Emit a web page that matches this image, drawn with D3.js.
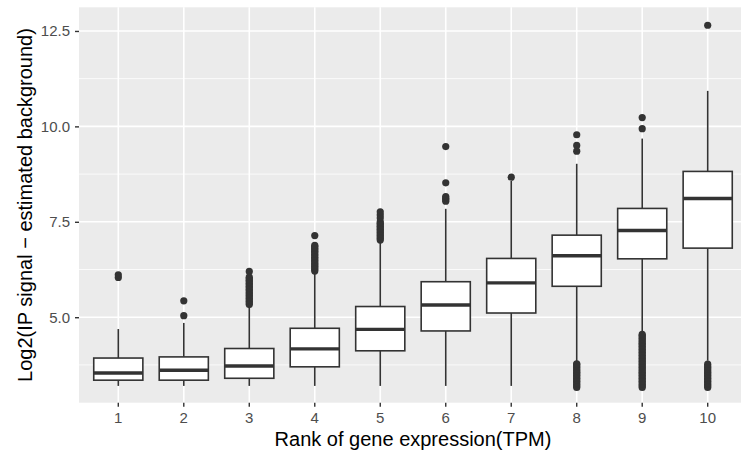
<!DOCTYPE html>
<html>
<head>
<meta charset="utf-8">
<script src="https://cdn.jsdelivr.net/npm/d3@7"></script>
<style>
  html, body { margin: 0; padding: 0; background: #fff; overflow: hidden; }
  svg { display: block; font-family: "Liberation Sans", Arial, Helvetica, sans-serif; }
</style>
</head>
<body>
<div id="chart"></div>
<script>
// Datos
const categories = ['1', '2', '3', '4', '5', '6', '7', '8', '9', '10'];
const whiskerLow = [3.20, 3.20, 3.20, 3.20, 3.20, 3.20, 3.20, 3.84, 4.62, 3.86];
const q1 = [3.35, 3.35, 3.40, 3.70, 4.12, 4.64, 5.11, 5.81, 6.53, 6.81];
const medians = [3.54, 3.61, 3.72, 4.17, 4.68, 5.32, 5.90, 6.61, 7.27, 8.11];
const q3 = [3.93, 3.96, 4.18, 4.71, 5.28, 5.93, 6.54, 7.15, 7.85, 8.82];
const whiskerHigh = [4.69, 4.85, 5.28, 6.14, 7.00, 7.84, 8.57, 9.02, 9.68, 10.93];
const outliers = [
  [6.04, 6.11],
  [5.04, 5.43],
  [5.33, 5.37, 5.41, 5.45, 5.49, 5.53, 5.57, 5.61, 5.65, 5.69, 5.73, 5.77, 5.81, 5.85, 5.89, 5.93, 5.97, 6.01, 6.05, 6.20],
  [6.21, 6.25, 6.29, 6.33, 6.37, 6.41, 6.45, 6.49, 6.53, 6.57, 6.61, 6.65, 6.69, 6.73, 6.77, 6.81, 6.85, 6.88, 7.14],
  [7.02, 7.06, 7.10, 7.14, 7.18, 7.22, 7.26, 7.30, 7.34, 7.38, 7.42, 7.46, 7.50, 7.60, 7.68, 7.76],
  [8.04, 8.08, 8.12, 8.16, 8.52, 9.47],
  [8.67],
  [3.16, 3.20, 3.24, 3.28, 3.32, 3.36, 3.40, 3.44, 3.48, 3.52, 3.56, 3.60, 3.64, 3.68, 3.72, 3.76, 3.78, 9.35, 9.50, 9.78],
  [3.16, 3.20, 3.24, 3.28, 3.32, 3.36, 3.40, 3.44, 3.48, 3.52, 3.56, 3.60, 3.64, 3.68, 3.72, 3.76, 3.80, 3.84, 3.88, 3.92,
   3.96, 4.00, 4.04, 4.08, 4.12, 4.16, 4.20, 4.24, 4.28, 4.32, 4.36, 4.40, 4.44, 4.48, 4.52, 4.55, 9.94, 10.23],
  [3.16, 3.20, 3.24, 3.28, 3.32, 3.36, 3.40, 3.44, 3.48, 3.52, 3.56, 3.60, 3.64, 3.68, 3.72, 3.77, 12.65]
];
const yTicks = [5, 7.5, 10, 12.5];
const yMinorTicks = [3.75, 6.25, 8.75, 11.25];
const yDomain = [2.76, 13.12];
const xTitle = 'Rank of gene expression(TPM)';
const yTitle = 'Log2(IP signal \u2212 estimated background)';

let width = 741, height = 457;
let panel = {left: 79, right: 747, top: 7.3, bottom: 402.7};
let fontFamily = '"Liberation Sans", Arial, Helvetica, sans-serif';

let svg = d3.select('#chart')
    .append('svg')
    .attr('width', width)
    .attr('height', height);

let x = d3.scaleBand()
    .domain(categories)
    .range([panel.left, panel.right])
    .paddingInner(0)
    .paddingOuter(0.1);

let y = d3.scaleLinear()
    .domain(yDomain)
    .range([panel.bottom, panel.top]);

// Fondo del panel
svg.append('rect')
    .attr('x', panel.left)
    .attr('y', panel.top)
    .attr('width', panel.right - panel.left)
    .attr('height', panel.bottom - panel.top)
    .attr('fill', '#EBEBEB');

// Rejilla
let grid = svg.append('g');
grid.selectAll('.minor')
    .data(yMinorTicks)
    .enter().append('line')
    .attr('x1', panel.left).attr('x2', panel.right)
    .attr('y1', d => y(d)).attr('y2', d => y(d))
    .attr('stroke', '#fff').attr('stroke-width', 0.8);
grid.selectAll('.major')
    .data(yTicks)
    .enter().append('line')
    .attr('x1', panel.left).attr('x2', panel.right)
    .attr('y1', d => y(d)).attr('y2', d => y(d))
    .attr('stroke', '#fff').attr('stroke-width', 1.6);
grid.selectAll('.vmajor')
    .data(categories)
    .enter().append('line')
    .attr('x1', d => x(d) + x.bandwidth() / 2).attr('x2', d => x(d) + x.bandwidth() / 2)
    .attr('y1', panel.top).attr('y2', panel.bottom)
    .attr('stroke', '#fff').attr('stroke-width', 1.6);

// Ejes
let xAxis = svg.append('g')
    .attr('transform', 'translate(0,' + panel.bottom + ')')
    .call(d3.axisBottom(x).tickSize(4).tickPadding(6));
xAxis.select('.domain').remove();
xAxis.selectAll('.tick line').attr('stroke', '#333').attr('stroke-width', 1.4);
xAxis.selectAll('.tick text').attr('fill', '#4D4D4D').attr('font-size', 15)
    .attr('font-family', fontFamily);

let yAxis = svg.append('g')
    .attr('transform', 'translate(' + panel.left + ',0)')
    .call(d3.axisLeft(y).tickValues(yTicks).tickFormat(d3.format('.1f')).tickSize(4).tickPadding(5));
yAxis.select('.domain').remove();
yAxis.selectAll('.tick line').attr('stroke', '#333').attr('stroke-width', 1.4);
yAxis.selectAll('.tick text').attr('fill', '#4D4D4D').attr('font-size', 15)
    .attr('font-family', fontFamily);

// Cajas
let boxes = categories.map((c, i) => ({
    cat: c, lo: whiskerLow[i], q1: q1[i], med: medians[i], q3: q3[i], hi: whiskerHigh[i], out: outliers[i]
}));
let cx = d => x(d.cat) + x.bandwidth() / 2;
let bw = x.step() * 0.75;

let g = svg.selectAll('.box')
    .data(boxes)
    .enter().append('g')
    .attr('class', 'box');

g.append('line')
    .attr('x1', cx).attr('x2', cx)
    .attr('y1', d => y(d.q3)).attr('y2', d => y(d.hi))
    .attr('stroke', '#333').attr('stroke-width', 1.6);
g.append('line')
    .attr('x1', cx).attr('x2', cx)
    .attr('y1', d => y(d.q1)).attr('y2', d => y(d.lo))
    .attr('stroke', '#333').attr('stroke-width', 1.6);

g.selectAll('circle')
    .data(d => d.out.map(v => ({cat: d.cat, v: v})))
    .enter().append('circle')
    .attr('cx', cx)
    .attr('cy', d => y(d.v))
    .attr('r', 3.6)
    .attr('fill', '#333');

g.append('rect')
    .attr('x', d => cx(d) - bw / 2)
    .attr('width', bw)
    .attr('y', d => y(d.q3))
    .attr('height', d => y(d.q1) - y(d.q3))
    .attr('fill', '#fff')
    .attr('stroke', '#333')
    .attr('stroke-width', 1.6);
g.append('line')
    .attr('x1', d => cx(d) - bw / 2).attr('x2', d => cx(d) + bw / 2)
    .attr('y1', d => y(d.med)).attr('y2', d => y(d.med))
    .attr('stroke', '#333').attr('stroke-width', 3.4);

// Títulos de ejes
svg.append('text')
    .attr('x', (panel.left + panel.right) / 2)
    .attr('y', 445.7)
    .attr('text-anchor', 'middle')
    .attr('font-size', 20)
    .attr('fill', '#000')
    .text(xTitle);

svg.append('text')
    .attr('transform', 'translate(31.7,' + (panel.top + panel.bottom) / 2 + ') rotate(-90)')
    .attr('text-anchor', 'middle')
    .attr('font-size', 20)
    .attr('fill', '#000')
    .text(yTitle);
</script>
</body>
</html>
